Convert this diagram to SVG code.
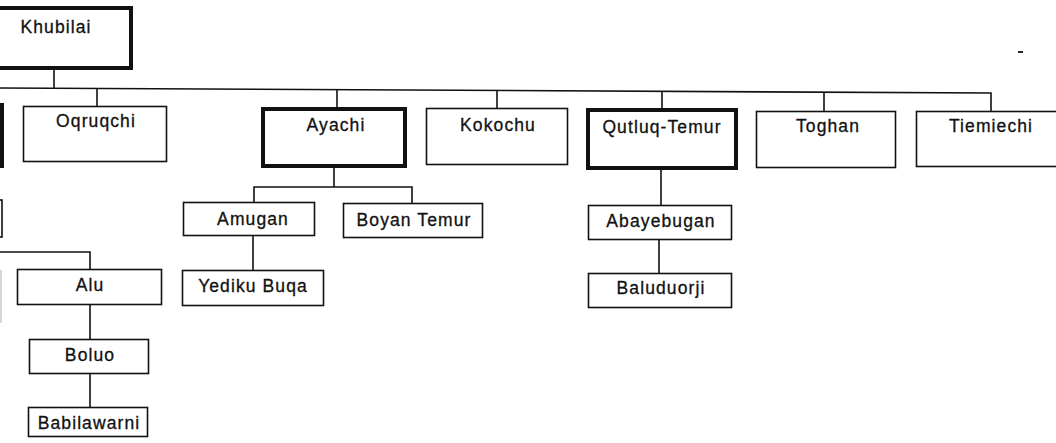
<svg xmlns="http://www.w3.org/2000/svg" width="1056" height="443" viewBox="0 0 1056 443">
  <style>
    .box { fill: #fff; stroke: #111; stroke-width: 1.6; }
    .bold { fill: #fff; stroke: #111; stroke-width: 4; }
    .link { fill: none; stroke: #111; stroke-width: 1.6; }
    .lbl { font-family: "Liberation Sans", Arial, sans-serif; font-size: 17.5px; letter-spacing: 1.1px; fill: #111; stroke: #111; stroke-width: 0.3px; text-anchor: middle; }
  </style>
  <rect width="1056" height="443" fill="#fff"/>

  <!-- connectors -->
  <g id="connectors">
    <path class="link" d="M54 70 V88"/>
    <path class="link" d="M0 88 L991 93 V111"/>
    <path class="link" d="M97 88.3 V106"/>
    <path class="link" d="M337 89.7 V107"/>
    <path class="link" d="M497 90.5 V108"/>
    <path class="link" d="M662 91.4 V108"/>
    <path class="link" d="M824 92.2 V111"/>
    <!-- Ayachi line -->
    <path class="link" d="M334 168 V187"/>
    <path class="link" d="M254 202 V187 H412 V203"/>
    <path class="link" d="M253 236 V270"/>
    <!-- Qutluq-Temur line -->
    <path class="link" d="M661 170 V205"/>
    <path class="link" d="M659 240 V273"/>
    <!-- left branch -->
    <path class="link" d="M0 252 H90 V269"/>
    <path class="link" d="M90 305 V339"/>
    <path class="link" d="M90 374 V407"/>
  </g>

  <g id="khubilai">
    <rect class="bold" x="-10" y="8" width="141" height="60"/>
    <text class="lbl" x="56" y="33">Khubilai</text>
  </g>
  <g id="edge-thick">
    <rect class="bold" x="-100" y="105" width="102" height="61"/>
  </g>
  <g id="edge-thin">
    <rect class="box" x="-100" y="200" width="102" height="37"/>
    <path d="M1 270 V323" stroke="#bbb" stroke-width="1.2"/>
  </g>
  <g id="oqruqchi">
    <rect class="box" x="23.5" y="106.5" width="143" height="55"/>
    <text class="lbl" x="96" y="127">Oqruqchi</text>
  </g>
  <g id="ayachi">
    <rect class="bold" x="263" y="109" width="142" height="57"/>
    <text class="lbl" x="336" y="131">Ayachi</text>
  </g>
  <g id="kokochu">
    <rect class="box" x="426.5" y="108.5" width="141" height="56"/>
    <text class="lbl" x="498" y="131">Kokochu</text>
  </g>
  <g id="qutluq-temur">
    <rect class="bold" x="588" y="110" width="148" height="58"/>
    <text class="lbl" x="662" y="133">Qutluq-Temur</text>
  </g>
  <g id="toghan">
    <rect class="box" x="756.5" y="111.5" width="139" height="56"/>
    <text class="lbl" x="828" y="132">Toghan</text>
  </g>
  <g id="tiemiechi">
    <rect class="box" x="916.5" y="111.5" width="160" height="55"/>
    <text class="lbl" x="991" y="132">Tiemiechi</text>
  </g>
  <g id="amugan">
    <rect class="box" x="183.5" y="202.5" width="131" height="33"/>
    <text class="lbl" x="253" y="225">Amugan</text>
  </g>
  <g id="boyan-temur">
    <rect class="box" x="343.5" y="203.5" width="139" height="34"/>
    <text class="lbl" x="414" y="226">Boyan Temur</text>
  </g>
  <g id="yediku-buqa">
    <rect class="box" x="182.5" y="270.5" width="141" height="35"/>
    <text class="lbl" x="253" y="292">Yediku Buqa</text>
  </g>
  <g id="abayebugan">
    <rect class="box" x="588.5" y="205.5" width="143" height="34"/>
    <text class="lbl" x="661" y="227">Abayebugan</text>
  </g>
  <g id="baluduorji">
    <rect class="box" x="588.5" y="273.5" width="143" height="34"/>
    <text class="lbl" x="661" y="294">Baluduorji</text>
  </g>
  <g id="alu">
    <rect class="box" x="17.5" y="269.5" width="144" height="35"/>
    <text class="lbl" x="90" y="291">Alu</text>
  </g>
  <g id="boluo">
    <rect class="box" x="29.5" y="339.5" width="119" height="34"/>
    <text class="lbl" x="90" y="361">Boluo</text>
  </g>
  <g id="babilawarni">
    <rect class="box" x="28.5" y="407.5" width="119" height="29"/>
    <text class="lbl" x="89" y="429">Babilawarni</text>
  </g>

  <rect x="1018" y="51" width="5" height="2" fill="#222"/>
</svg>
